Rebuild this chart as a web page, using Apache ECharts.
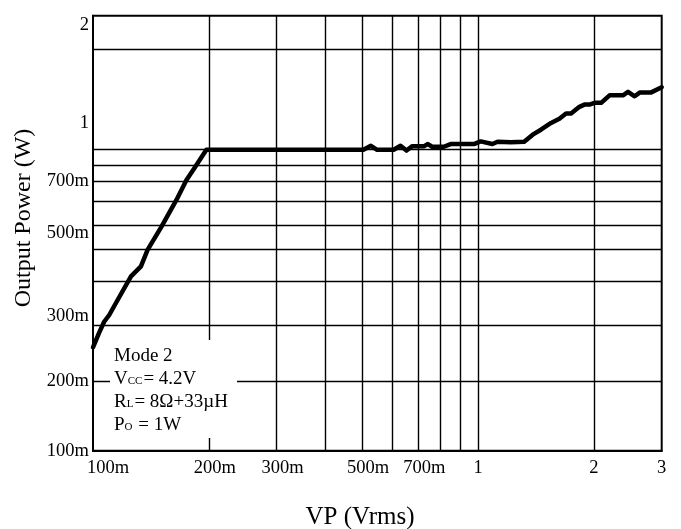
<!DOCTYPE html>
<html>
<head>
<meta charset="utf-8">
<title>Output Power vs VP</title>
<script src="https://cdn.jsdelivr.net/npm/echarts@6/dist/echarts.min.js"></script>
<style>
  html, body { margin: 0; padding: 0; background: #fff; }
  #chart { width: 681px; height: 529px; }
</style>
</head>
<body>
<div id="chart"></div>
<script>
// Input level (Vrms) and measured output power (W)
const vpVrms = [0.1, 0.1037, 0.1069, 0.1102, 0.1147, 0.1255, 0.1332, 0.1386, 0.1505, 0.1647,
  0.1749, 0.1835, 0.197, 0.504, 0.527, 0.547, 0.604, 0.629, 0.652, 0.674,
  0.723, 0.741, 0.760, 0.815, 0.849, 0.976, 1.016, 1.090, 1.124, 1.217,
  1.318, 1.387, 1.457, 1.548, 1.627, 1.693, 1.745, 1.834, 1.890, 1.948,
  2.007, 2.089, 2.196, 2.380, 2.453, 2.552, 2.630, 2.810, 3.0];
const outputPowerW = [0.252, 0.274, 0.291, 0.302, 0.331, 0.395, 0.419, 0.459, 0.523, 0.627,
  0.705, 0.768, 0.863, 0.863, 0.884, 0.863, 0.863, 0.884, 0.859, 0.881,
  0.881, 0.893, 0.879, 0.879, 0.893, 0.893, 0.907, 0.893, 0.905, 0.903,
  0.905, 0.942, 0.968, 1.006, 1.044, 1.093, 1.093, 1.155, 1.176, 1.176,
  1.192, 1.192, 1.262, 1.262, 1.294, 1.253, 1.287, 1.287, 1.336];

// X axis ticks
const xTickValues = [0.1, 0.2, 0.3, 0.5, 0.7, 1, 2, 3];
const xTickLabels = ['100m', '200m', '300m', '500m', '700m', '1', '2', '3'];
const xGridValues = [0.2, 0.3, 0.4, 0.5, 0.6, 0.7, 0.8, 0.9, 1, 2];

// Y axis ticks
const yTickValues = [0.1, 0.2, 0.3, 0.5, 0.7, 1, 2];
const yTickLabels = ['100m', '200m', '300m', '500m', '700m', '1', '2'];

// The power axis is graduated unevenly: each labelled power sits at its own
// position on a 0..100 track, and values in between are interpolated.
const yScaleWatts = [0.1, 0.2, 0.3, 0.5, 0.7, 1, 2];
const yScaleTrack = [0, 15.9, 31.0, 50.1, 62.0, 75.2, 100];
// Horizontal rules on the same track
const yRuleTrack = [15.9, 28.9, 38.9, 46.2, 51.9, 57.3, 62.0, 65.7, 69.2, 92.2];

function wattsToTrack(w) {
  const n = yScaleWatts.length;
  if (w <= yScaleWatts[0]) return yScaleTrack[0];
  for (let i = 1; i < n; i++) {
    if (w <= yScaleWatts[i]) {
      const t = (w - yScaleWatts[i - 1]) / (yScaleWatts[i] - yScaleWatts[i - 1]);
      return yScaleTrack[i - 1] + t * (yScaleTrack[i] - yScaleTrack[i - 1]);
    }
  }
  return yScaleTrack[n - 1];
}

function nearestIndex(list, v) {
  let best = 0, bestD = Infinity;
  list.forEach((x, i) => { const d = Math.abs(x - v); if (d < bestD) { bestD = d; best = i; } });
  return best;
}

const yLabelTrack = yTickValues.map(wattsToTrack);
const seriesData = vpVrms.map((v, i) => [v, wattsToTrack(outputPowerW[i])]);

const SERIF = '"Liberation Serif", "Times New Roman", serif';
const TICK_SIZE = 18.5;

const chart = echarts.init(document.getElementById('chart'), null, { renderer: 'canvas' });

chart.setOption({
  animation: false,
  backgroundColor: '#fff',
  grid: {
    left: 93, right: 19.3, top: 15.7, bottom: 78.3,
    show: true, borderColor: '#000', borderWidth: 2, backgroundColor: 'transparent'
  },
  xAxis: {
    type: 'log',
    logBase: 10,
    min: 0.1,
    max: 3,
    axisLine: { show: true, lineStyle: { color: '#000', width: 2 } },
    axisTick: { show: false, customValues: xGridValues },
    splitLine: { show: true, lineStyle: { color: '#000', width: 1.4 } },
    axisLabel: {
      customValues: xTickValues,
      margin: 8,
      color: '#000',
      fontFamily: SERIF,
      fontSize: TICK_SIZE,
      formatter: function (val) {
        const i = nearestIndex(xTickValues, val);
        const txt = xTickLabels[i];
        if (i === 0) return '{first|' + txt + '}';
        return /m$/.test(txt) ? '{milli|' + txt + '}' : '{unit|' + txt + '}';
      },
      rich: {
        first: { fontFamily: SERIF, fontSize: TICK_SIZE, color: '#000', padding: [0, 0, 0, 30] },
        milli: { fontFamily: SERIF, fontSize: TICK_SIZE, color: '#000', padding: [0, 0, 0, 12] },
        unit: { fontFamily: SERIF, fontSize: TICK_SIZE, color: '#000' }
      }
    }
  },
  yAxis: {
    type: 'value',
    min: 0,
    max: 100,
    axisLine: { show: true, lineStyle: { color: '#000', width: 2 } },
    axisTick: { show: false, customValues: yRuleTrack },
    splitLine: { show: true, lineStyle: { color: '#000', width: 1.4 } },
    axisLabel: {
      customValues: yLabelTrack,
      margin: 4,
      color: '#000',
      fontFamily: SERIF,
      fontSize: TICK_SIZE,
      verticalAlignMaxLabel: 'top',
      formatter: function (val) {
        return yTickLabels[nearestIndex(yLabelTrack, val)];
      }
    }
  },
  series: [{
    type: 'line',
    data: seriesData,
    showSymbol: false,
    symbol: 'none',
    lineStyle: { color: '#000', width: 4.5, join: 'round', cap: 'round' },
    z: 5
  }],
  graphic: [
    {
      type: 'rect',
      z: 10,
      shape: { x: 110, y: 340, width: 127, height: 98 },
      style: { fill: '#fff' }
    },
    {
      type: 'text',
      z: 11,
      x: 114,
      y: 345,
      style: {
        text: 'Mode 2\nV{s|CC}= 4.2V\nR{s|L}= 8Ω+33µH\nP{s|O} = 1W',
        font: '19px ' + SERIF,
        fill: '#000',
        lineHeight: 23,
        rich: {
          s: { font: '11px ' + SERIF, fill: '#000', lineHeight: 23, padding: [4, 1, 0, 0] }
        }
      }
    },
    {
      type: 'text',
      x: 360,
      y: 517,
      style: {
        text: 'VP (Vrms)',
        font: '25px ' + SERIF,
        fill: '#000',
        align: 'center',
        verticalAlign: 'middle'
      }
    },
    {
      type: 'text',
      x: 24,
      y: 218,
      rotation: Math.PI / 2,
      style: {
        text: 'Output Power (W)',
        font: '24px ' + SERIF,
        fill: '#000',
        align: 'center',
        verticalAlign: 'middle'
      }
    }
  ]
});
</script>
</body>
</html>
